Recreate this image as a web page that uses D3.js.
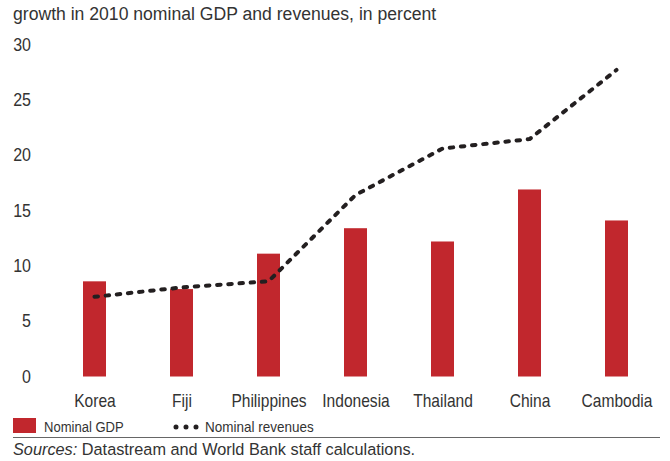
<!DOCTYPE html>
<html>
<head>
<meta charset="utf-8">
<script src="https://cdn.jsdelivr.net/npm/d3@7"></script>
<style>
  html, body { margin: 0; padding: 0; background: #fff; }
  svg { display: block; }
  .regular { font-family: "Liberation Sans", Arial, sans-serif; fill: #333; }
  .narrow { font-family: "Liberation Sans", Arial, sans-serif; fill: #333; }
</style>
</head>
<body>
<svg id="chart" width="670" height="461"></svg>
<script>
// Growth in 2010, percent
const categories = ["Korea", "Fiji", "Philippines", "Indonesia", "Thailand", "China", "Cambodia"];
const nominalGDP = [8.6, 7.9, 11.1, 13.4, 12.2, 16.9, 14.1];
const nominalRevenues = [7.2, 8.05, 8.6, 16.4, 20.6, 21.45, 27.7];
const yTicks = [0, 5, 10, 15, 20, 25, 30];

const titleText = "growth in 2010 nominal GDP and revenues, in percent";
const legendLabels = ["Nominal GDP", "Nominal revenues"];

const RED = "#c1272d";
const INK = "#231f20";
// horizontal squeeze used for the condensed label face
const NARROW = 0.89;

const svg = d3.select("#chart");

const x = d3.scalePoint().domain(categories).range([51, 660]).padding(0.5);
const y = d3.scaleLinear().domain([0, 30]).range([376.5, 44.5]);
const barWidth = 23;

// Title
svg.append("text")
  .attr("class", "regular")
  .attr("x", 13).attr("y", 20)
  .style("font-size", "17.6px")
  .text(titleText);

// Value axis: labels only, no line or ticks
const yAxis = svg.append("g")
  .attr("transform", "translate(31,0)")
  .call(d3.axisLeft(y).tickValues(yTicks).tickSize(0).tickPadding(0));
yAxis.select(".domain").remove();
yAxis.selectAll("text")
  .attr("class", "narrow")
  .attr("fill", null)
  .attr("transform", `scale(${NARROW},1)`)
  .style("font-size", "18px")
  .style("font-family", null);

// Bars
svg.append("g").selectAll("rect")
  .data(categories)
  .join("rect")
  .attr("x", (d) => x(d) - barWidth / 2)
  .attr("width", barWidth)
  .attr("y", (d, i) => y(nominalGDP[i]))
  .attr("height", (d, i) => y(0) - y(nominalGDP[i]))
  .attr("fill", RED);

// Revenues line
const line = d3.line()
  .x((d) => x(d.c))
  .y((d) => y(d.v));
svg.append("path")
  .datum(categories.map((c, i) => ({ c, v: nominalRevenues[i] })))
  .attr("d", line)
  .attr("fill", "none")
  .attr("stroke", INK)
  .attr("stroke-width", 4)
  .attr("stroke-linecap", "round")
  .attr("stroke-linejoin", "round")
  .attr("stroke-dasharray", "3.5,7.7");

// Category axis: labels only
const xAxis = svg.append("g")
  .attr("transform", "translate(0,407)")
  .call(d3.axisBottom(x).tickSize(0).tickPadding(0));
xAxis.select(".domain").remove();
xAxis.selectAll("text")
  .attr("class", "narrow")
  .attr("fill", null)
  .attr("dy", 0)
  .attr("transform", `scale(${NARROW},1)`)
  .style("font-size", "17.5px")
  .style("font-family", null);

// Legend
const legend = svg.append("g");
legend.append("rect")
  .attr("x", 13).attr("y", 418).attr("width", 23).attr("height", 15)
  .attr("fill", RED);
legend.append("text")
  .attr("class", "narrow")
  .attr("transform", "translate(44,432) scale(0.87,1)")
  .style("font-size", "15px")
  .text(legendLabels[0]);
legend.append("line")
  .attr("x1", 176).attr("x2", 196.5)
  .attr("y1", 427).attr("y2", 427)
  .attr("stroke", INK)
  .attr("stroke-width", 5)
  .attr("stroke-linecap", "round")
  .attr("stroke-dasharray", "0,10");
legend.append("text")
  .attr("class", "narrow")
  .attr("transform", "translate(205,432) scale(0.9,1)")
  .style("font-size", "15px")
  .text(legendLabels[1]);

// Rule above the source note
svg.append("line")
  .attr("x1", 13).attr("x2", 660)
  .attr("y1", 437.5).attr("y2", 437.5)
  .attr("stroke", "#666")
  .attr("stroke-width", 1.2);

// Source note
const note = svg.append("text")
  .attr("class", "regular")
  .attr("x", 13).attr("y", 455)
  .style("font-size", "16.3px");
note.append("tspan").style("font-style", "italic").text("Sources:");
note.append("tspan").text(" Datastream and World Bank staff calculations.");
</script>
</body>
</html>
